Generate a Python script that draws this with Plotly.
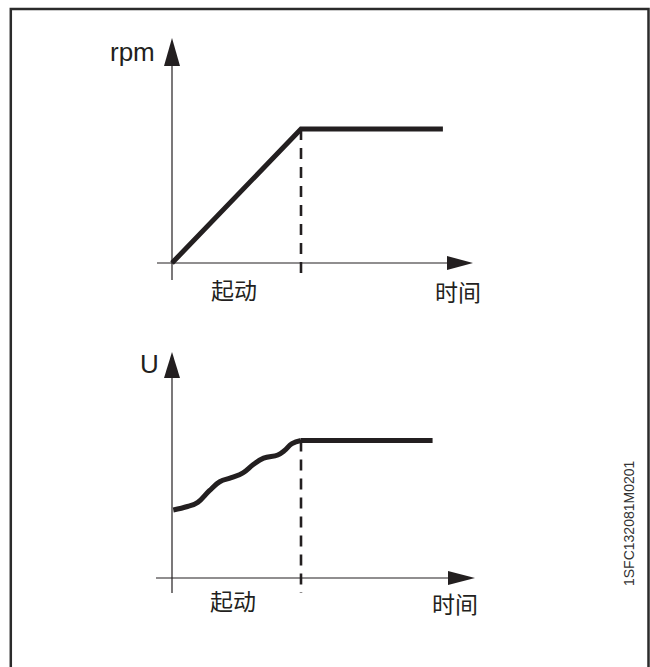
import plotly.graph_objects as go

# --- data (normalised units: time 1.0 = end of start phase) ---
start_end = 1.0

rpm_time = [0.0, 1.0, 2.1]
rpm_value = [0.0, 1.0, 1.0]

u_time = [0.01, 0.12, 0.20, 0.29, 0.37, 0.46, 0.55, 0.63, 0.71, 0.82, 0.87, 0.93, 1.0]
u_value = [0.495, 0.52, 0.55, 0.635, 0.70, 0.73, 0.765, 0.825, 0.872, 0.895, 0.925, 0.978, 1.0]
u_hold_time = [1.0, 2.02]
u_hold_value = [1.0, 1.0]

y_labels = ["rpm", "U"]
x_label = "时间"
phase_label = "起动"
doc_code = "1SFC132081M0201"

W, H = 650, 667
INK = "#231f20"
LATIN = "Liberation Sans, Arial, sans-serif"
CJK = "Noto Sans CJK SC, sans-serif"

# px per data unit (used only for axis/arrow decoration sizes)
sx = 129.0
sy_top = 134.0
sy_bot = 137.5

fig = go.Figure()

# top panel: speed
fig.add_trace(go.Scatter(x=rpm_time, y=rpm_value, mode="lines",
                         line=dict(color=INK, width=5), xaxis="x", yaxis="y"))
fig.add_trace(go.Scatter(x=[start_end, start_end], y=[rpm_value[-1], -17 / sy_top], mode="lines",
                         line=dict(color=INK, width=2.6, dash="11px,8px"), xaxis="x", yaxis="y"))

# bottom panel: voltage
fig.add_trace(go.Scatter(x=u_time, y=u_value, mode="lines",
                         line=dict(color=INK, width=5, shape="spline", smoothing=1.2),
                         xaxis="x2", yaxis="y2"))
fig.add_trace(go.Scatter(x=u_hold_time, y=u_hold_value, mode="lines",
                         line=dict(color=INK, width=5), xaxis="x2", yaxis="y2"))
fig.add_trace(go.Scatter(x=[start_end, start_end], y=[u_hold_value[0], -15 / sy_bot], mode="lines",
                         line=dict(color=INK, width=2.6, dash="11px,8px"), xaxis="x2", yaxis="y2"))


def axes_with_arrows(xr, yr, sy, x_left, x_base, x_tip, y_low, y_base, y_tip):
    shapes = []
    line = dict(color=INK, width=1.2)
    shapes.append(dict(type="line", xref=xr, yref=yr, x0=x_left, x1=x_base, y0=0, y1=0, line=line))
    shapes.append(dict(type="line", xref=xr, yref=yr, x0=0, x1=0, y0=y_low, y1=y_base, line=line))
    hw = 7 / sy
    shapes.append(dict(type="path", xref=xr, yref=yr,
                       path=f"M {x_base},{hw} L {x_tip},0 L {x_base},{-hw} Z",
                       fillcolor=INK, line=dict(width=0)))
    vw = 8 / sx
    shapes.append(dict(type="path", xref=xr, yref=yr,
                       path=f"M {-vw},{y_base} L 0,{y_tip} L {vw},{y_base} Z",
                       fillcolor=INK, line=dict(width=0)))
    return shapes


shapes = []
shapes += axes_with_arrows("x", "y", sy_top, -15 / sx, 275 / sx, 301 / sx,
                           -17 / sy_top, 197 / sy_top, 225 / sy_top)
shapes += axes_with_arrows("x2", "y2", sy_bot, -16 / sx, 276 / sx, 303 / sx,
                           -15 / sy_bot, 200 / sy_bot, 226 / sy_bot)

# outer frame (open at the bottom)
fx0, fx1, fy = 10.8 / W, 648.5 / W, 1 - 9 / H
shapes.append(dict(type="path", xref="paper", yref="paper",
                   path=f"M {fx0},0 L {fx0},{fy} L {fx1},{fy} L {fx1},0",
                   line=dict(color="#2b2b2b", width=2.5)))

annotations = [
    dict(x=-0.31, y=1.575, xref="x", yref="y", text=y_labels[0], showarrow=False,
         font=dict(family=LATIN, size=26, color=INK)),
    dict(x=-0.178, y=1.556, xref="x2", yref="y2", text=y_labels[1], showarrow=False,
         font=dict(family=LATIN, size=26, color=INK)),
    dict(x=0.481, y=-0.194, xref="x", yref="y", text=phase_label, showarrow=False,
         font=dict(family=CJK, size=23, color=INK)),
    dict(x=2.217, y=-0.209, xref="x", yref="y", text=x_label, showarrow=False,
         font=dict(family=CJK, size=23, color=INK)),
    dict(x=0.473, y=-0.16, xref="x2", yref="y2", text=phase_label, showarrow=False,
         font=dict(family=CJK, size=23, color=INK)),
    dict(x=2.194, y=-0.182, xref="x2", yref="y2", text=x_label, showarrow=False,
         font=dict(family=CJK, size=23, color=INK)),
    dict(x=639 / W, y=1 - 588 / H, xref="paper", yref="paper", text=doc_code, showarrow=False,
         textangle=-90, font=dict(family=LATIN, size=14, color="#333333")),
]

xrange = [-172 / sx, (W - 172) / sx]
fig.update_layout(
    width=W, height=H,
    margin=dict(l=0, r=0, t=0, b=0),
    paper_bgcolor="white", plot_bgcolor="white",
    showlegend=False,
    xaxis=dict(domain=[0, 1], range=xrange, visible=False, anchor="y"),
    yaxis=dict(domain=[0.5, 1], range=[(263 - 333.5) / sy_top, 263 / sy_top], visible=False, anchor="x"),
    xaxis2=dict(domain=[0, 1], range=xrange, visible=False, anchor="y2"),
    yaxis2=dict(domain=[0, 0.5], range=[(578 - 667) / sy_bot, (578 - 333.5) / sy_bot], visible=False, anchor="x2"),
    shapes=shapes,
    annotations=annotations,
)

fig.write_html("out.html", config={"displayModeBar": False},
               post_script="document.body.style.margin='0';document.body.style.overflow='hidden';")
